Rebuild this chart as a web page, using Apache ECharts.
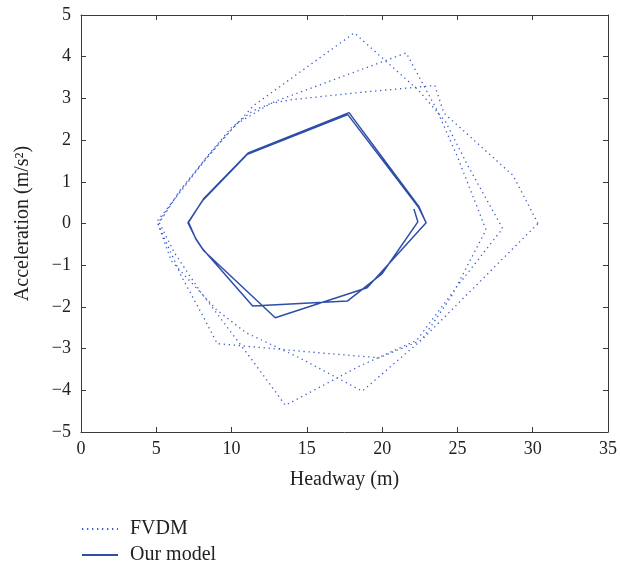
<!DOCTYPE html>
<html>
<head>
<meta charset="utf-8">
<script src="https://cdn.jsdelivr.net/npm/echarts@6/dist/echarts.min.js"></script>
<style>
  html, body { margin: 0; padding: 0; background: #fff; }
  #chart { width: 620px; height: 564px; }
</style>
</head>
<body>
<div id="chart"></div>
<script>
// axis ticks
var xTicks = [0, 5, 10, 15, 20, 25, 30, 35]
var yTicks = [-5, -4, -3, -2, -1, 0, 1, 2, 3, 4, 5]

// FVDM trajectory (headway, acceleration), three loops
var fvdmX = [30.35, 28.7, 24.1, 23.5, 18.46, 14.0, 12.6, 10.3, 8.5, 6.8, 5.05, 6.66, 8.1, 9.05, 15.8, 19.8, 22.6, 24.6,
  26.9, 25.0, 23.6, 21.6, 13.2, 11.4, 10.0, 8.4, 6.6, 5.2, 6.2, 7.9, 11.5, 13.57, 18.5, 22.3, 25.0,
  28.0, 25.6, 24.2, 22.4, 18.15, 11.47, 10.0, 8.3, 6.5, 5.1, 6.0, 8.98, 10.96, 14.5, 18.68, 20.5, 22.6, 30.35]
var fvdmY = [0.0, 1.15, 2.65, 3.31, 3.14, 2.97, 2.88, 2.38, 1.65, 0.85, 0.05, -1.26, -2.22, -2.88, -3.1, -3.22, -2.8, -1.75,
  -0.15, 1.6, 2.75, 4.09, 2.97, 2.7, 2.3, 1.62, 0.8, 0.02, -0.7, -1.62, -3.34, -4.36, -3.42, -2.8, -1.5,
  -0.12, 1.45, 2.45, 3.2, 4.57, 2.83, 2.25, 1.55, 0.75, 0.0, -0.9, -2.06, -2.62, -3.22, -4.02, -3.45, -2.8, 0.0]

// Our model trajectory
var modelX = [22.11, 22.37, 20.0, 17.69, 11.4, 8.1, 7.62, 7.1, 8.1, 11.05, 17.72, 22.43, 22.92,
  19.0, 12.9, 8.12, 7.64, 7.14, 8.14, 11.1, 17.8, 22.45, 22.9]
var modelY = [0.35, 0.04, -1.2, -1.86, -1.98, -0.62, -0.36, 0.02, 0.56, 1.66, 2.61, 0.38, 0.02,
  -1.54, -2.26, -0.64, -0.38, 0.03, 0.59, 1.69, 2.66, 0.4, 0.03]

function pairs(xs, ys) {
  return xs.map(function (x, i) { return [x, ys[i]] })
}

var font = 'Liberation Serif'
var axisColor = '#3a3a3a'

function boxAxis(ticks, pos, showLabel) {
  return {
    type: 'value',
    position: pos,
    min: ticks[0],
    max: ticks[ticks.length - 1],
    interval: ticks[1] - ticks[0],
    axisLine: { show: true, onZero: false, lineStyle: { color: axisColor, width: 1 } },
    axisTick: { show: true, inside: true, length: 5, lineStyle: { color: axisColor } },
    splitLine: { show: false },
    axisLabel: {
      show: showLabel,
      fontFamily: font,
      fontSize: 18,
      color: '#222',
      margin: pos === 'left' ? 10 : 8,
      formatter: function (v) { return String(v).replace('-', '\u2212') }
    }
  }
}

function legendRow(name, top) {
  return {
    left: 81,
    top: top,
    padding: 0,
    itemWidth: 36,
    itemHeight: 14,
    itemStyle: { opacity: 0 },
    textStyle: { fontFamily: font, fontSize: 20, color: '#222', padding: [0, 0, 0, 7] },
    data: [name]
  }
}

var chart = echarts.init(document.getElementById('chart'))

var xBottom = boxAxis(xTicks, 'bottom', true)
xBottom.name = 'Headway (m)'
xBottom.nameLocation = 'middle'
xBottom.nameGap = 38
xBottom.nameTextStyle = { fontFamily: font, fontSize: 20, color: '#222' }

var yLeft = boxAxis(yTicks, 'left', true)
yLeft.name = 'Acceleration (m/s\u00b2)'
yLeft.nameLocation = 'middle'
yLeft.nameGap = 48
yLeft.nameTextStyle = { fontFamily: font, fontSize: 20, color: '#222' }

chart.setOption({
  animation: false,
  grid: { left: 81, right: 10, top: 15, bottom: 132 },
  xAxis: [xBottom, boxAxis(xTicks, 'top', false)],
  yAxis: [yLeft, boxAxis(yTicks, 'right', false)],
  legend: [legendRow('FVDM', 519), legendRow('Our model', 545)],
  series: [
    {
      name: 'FVDM',
      type: 'line',
      symbol: 'none',
      data: pairs(fvdmX, fvdmY),
      lineStyle: { color: '#3a5ccc', width: 1.3, type: [1.3, 3.7] },
      itemStyle: { color: '#3a5ccc' }
    },
    {
      name: 'Our model',
      type: 'line',
      symbol: 'none',
      data: pairs(modelX, modelY),
      lineStyle: { color: '#2e4ea8', width: 1.5 },
      itemStyle: { color: '#2e4ea8' }
    }
  ]
})
</script>
</body>
</html>
